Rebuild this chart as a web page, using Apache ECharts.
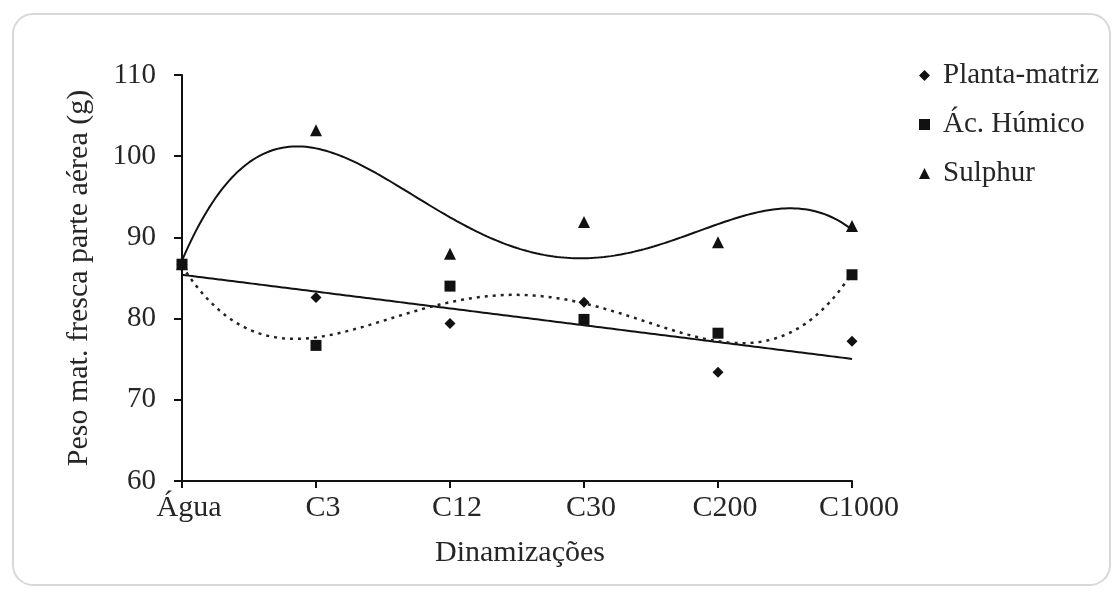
<!DOCTYPE html>
<html><head><meta charset="utf-8">
<script src="https://cdn.jsdelivr.net/npm/echarts@6/dist/echarts.min.js"></script>
<style>html,body{margin:0;padding:0;background:#fff}#c{width:1118px;height:592px}</style>
</head><body><div id="c"></div>
<script>
const categories = ['Água', 'C3', 'C12', 'C30', 'C200', 'C1000'];
const plantaMatriz = [86.7, 82.6, 79.4, 82.0, 73.4, 77.2];
const acHumico = [86.7, 76.7, 84.0, 79.9, 78.2, 85.4];
const sulphur = [86.7, 103.2, 88.0, 91.9, 89.4, 91.4];
const yTicks = [60, 70, 80, 90, 100, 110];

function polyFit(ys, deg) {
  const n = deg + 1, A = [], b = [];
  for (let r = 0; r < n; r++) { A.push(new Array(n).fill(0)); b.push(0); }
  ys.forEach((y, i) => {
    for (let r = 0; r < n; r++) {
      b[r] += y * Math.pow(i, r);
      for (let c = 0; c < n; c++) A[r][c] += Math.pow(i, r + c);
    }
  });
  for (let k = 0; k < n; k++) {
    let p = k; for (let r = k + 1; r < n; r++) if (Math.abs(A[r][k]) > Math.abs(A[p][k])) p = r;
    [A[k], A[p]] = [A[p], A[k]]; [b[k], b[p]] = [b[p], b[k]];
    for (let r = k + 1; r < n; r++) {
      const f = A[r][k] / A[k][k];
      for (let c = k; c < n; c++) A[r][c] -= f * A[k][c];
      b[r] -= f * b[k];
    }
  }
  const co = new Array(n).fill(0);
  for (let k = n - 1; k >= 0; k--) {
    let s = b[k]; for (let c = k + 1; c < n; c++) s -= A[k][c] * co[c];
    co[k] = s / A[k][k];
  }
  return co;
}
function curve(ys, deg) {
  const co = polyFit(ys, deg), out = [], N = 200, last = ys.length - 1;
  for (let j = 0; j <= N; j++) {
    const x = last * j / N;
    let y = 0; co.forEach((c, k) => y += c * Math.pow(x, k));
    out.push([x, y]);
  }
  return out;
}
const pts = a => a.map((v, i) => [i, v]);
const font = 'Liberation Serif';
const ink = '#111';
const txt = '#262626';
const chart = echarts.init(document.getElementById('c'));
chart.setOption({
  backgroundColor: '#fff',
  animation: false,
  graphic: [{ type: 'rect', shape: { x: 13, y: 14, width: 1097, height: 571, r: 20 },
    style: { fill: 'none', stroke: '#d8d8d8', lineWidth: 2 }, z: -1 }],
  grid: { left: 182, right: 266, top: 75, bottom: 111 },
  legend: {
    orient: 'vertical', left: 914, top: 56, itemGap: 20, itemWidth: 11, itemHeight: 11,
    textStyle: { fontFamily: font, fontSize: 29, color: txt, padding: [0, 0, 0, 8] },
    data: [
      { name: 'Planta-matriz', icon: 'diamond' },
      { name: 'Ác. Húmico', icon: 'rect' },
      { name: 'Sulphur', icon: 'triangle' }
    ]
  },
  xAxis: {
    type: 'value', min: 0, max: categories.length - 1, interval: 1,
    name: 'Dinamizações', nameLocation: 'middle', nameGap: 57,
    nameTextStyle: { fontFamily: font, fontSize: 30, color: txt, padding: [0, 0, 0, 6] },
    axisLine: { lineStyle: { color: ink, width: 2 } },
    axisTick: { length: 7, lineStyle: { color: ink, width: 2 } },
    axisLabel: { formatter: v => categories[v], fontFamily: font, fontSize: 30, color: txt,
      margin: 12, padding: [0, 0, 0, 14] },
    splitLine: { show: false }
  },
  yAxis: {
    type: 'value', min: yTicks[0], max: yTicks[yTicks.length - 1], interval: 10,
    name: 'Peso mat. fresca parte aérea (g)', nameLocation: 'middle', nameGap: 88,
    nameTextStyle: { fontFamily: font, fontSize: 30, color: txt },
    axisLine: { show: true, lineStyle: { color: ink, width: 2 } },
    axisTick: { show: true, length: 8, lineStyle: { color: ink, width: 2 } },
    axisLabel: { fontFamily: font, fontSize: 29, color: txt, margin: 26 },
    splitLine: { show: false }
  },
  series: [
    { name: 'Planta-matriz', type: 'scatter', symbol: 'diamond', symbolSize: 11,
      itemStyle: { color: ink, opacity: 1 }, data: pts(plantaMatriz), z: 3 },
    { name: 'Ác. Húmico', type: 'scatter', symbol: 'rect', symbolSize: 11,
      itemStyle: { color: ink, opacity: 1 }, data: pts(acHumico), z: 4 },
    { name: 'Sulphur', type: 'scatter', symbol: 'triangle', symbolSize: 12,
      itemStyle: { color: ink, opacity: 1 }, data: pts(sulphur), z: 3 },
    { name: 'trend-pm', type: 'line', showSymbol: false, symbol: 'none', data: curve(plantaMatriz, 1),
      lineStyle: { color: ink, width: 2 }, z: 2 },
    { name: 'trend-ah', type: 'line', showSymbol: false, symbol: 'none', data: curve(acHumico, 4),
      lineStyle: { color: '#222', width: 2.5, type: [3, 5] }, z: 2 },
    { name: 'trend-su', type: 'line', showSymbol: false, symbol: 'none', data: curve(sulphur, 4),
      lineStyle: { color: ink, width: 2 }, z: 2 }
  ]
});
</script></body></html>
